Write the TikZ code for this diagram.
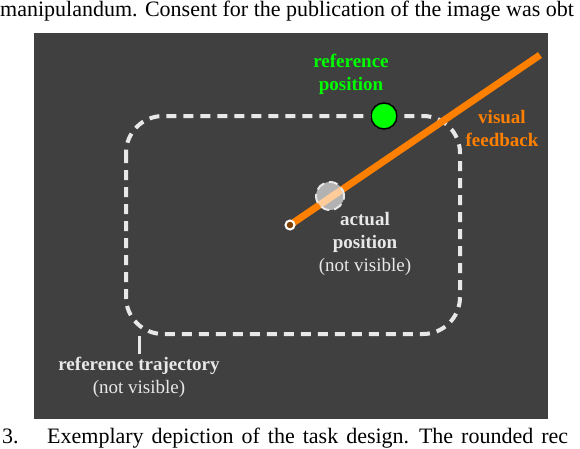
\documentclass[tikz,border=0pt]{standalone}
\usepackage{fontspec}
\setmainfont{Liberation Serif}
\usetikzlibrary{positioning}
\definecolor{panel}{RGB}{64,64,64}
\definecolor{fbk}{RGB}{255,128,0}
\definecolor{refg}{RGB}{0,255,0}
\definecolor{lbl}{RGB}{232,232,232}
\tikzset{
  lab/.style={align=center,inner sep=0pt,font=\bfseries\fontsize{19}{23}\selectfont},
  capt/.style={anchor=base west,inner sep=0pt,font=\fontsize{22}{26}\selectfont},
  traj/.style={draw=lbl,line width=4pt,dash pattern=on 10pt off 7pt},
}

\begin{document}
\begin{tikzpicture}[x=1pt,y=-1pt]
  \useasboundingbox (0,0) rectangle (580,448);
  % surrounding caption text
  \node[capt] (top) at (0,16) {manipulandum. Consent for the publication of the image was obt};
  \node[capt] (num) at (2,443) {3.};
  \node[capt] (bot) at (47,443) {\spaceskip=8pt\relax Exemplary depiction of the task design. The rounded rec};
  % screen
  \fill[panel] (34,33) rectangle (548,419);
  \draw[traj,rounded corners=37pt] (126,116) rectangle (460,334);
  % cursor line
  \coordinate (hand) at (290,225);
  \coordinate (tip) at (540,55);
  \draw[fbk,line width=7pt] (hand) -- (tip);
  \node[circle,draw=white,fill=fbk!50!black,line width=2pt,minimum size=9pt,inner sep=0pt] (start) at (hand) {};
  \node[circle,draw=lbl,fill=white,fill opacity=0.6,draw opacity=1,line width=2pt,dash pattern=on 9pt off 5pt,minimum size=28pt,inner sep=0pt] (act) at (330,196) {};
  \node[circle,draw=black,fill=refg,line width=1.5pt,minimum size=26pt,inner sep=0pt] (ref) at (384,116) {};
  % labels
  \node[lab,text=refg] (reflab) at (351,74) {reference\\position};
  \node[lab,text=fbk] (fbklab) at (502,128) {visual\\feedback};
  \node[lab,text=lbl] (actlab) at (365,244) {actual\\position\\\textmd{(not visible)}};
  \node[lab,text=lbl] (trajlab) at (139,377) {reference trajectory\\\textmd{(not visible)}};
  \coordinate (corner) at (139,336);
  \draw[lbl,line width=3pt] (corner) -- ([yshift=3pt]trajlab.north -| corner);
\end{tikzpicture}
\end{document}
